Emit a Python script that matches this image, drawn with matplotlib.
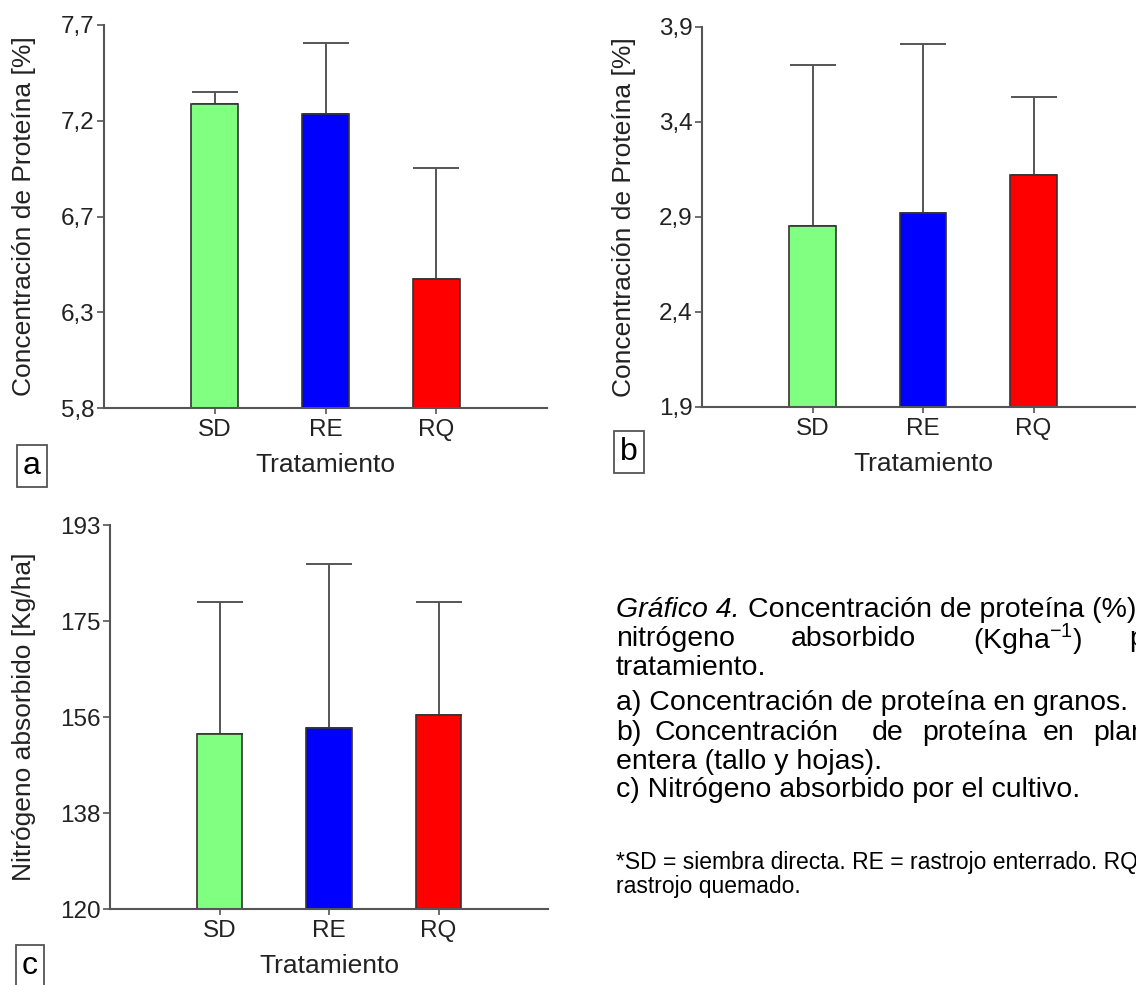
import matplotlib
matplotlib.use("Agg")
import matplotlib.pyplot as plt

plt.rcParams["font.family"] = ["Liberation Sans", "DejaVu Sans"]

tratamientos = ["SD", "RE", "RQ"]
colores = ["#80ff80", "#0000ff", "#ff0000"]

# a) proteina en granos
prot_granos = [7.31, 7.26, 6.44]
prot_granos_err = [0.06, 0.35, 0.55]
ticks_a = [5.8, 6.275, 6.75, 7.225, 7.7]
labels_a = ["5,8", "6,3", "6,7", "7,2", "7,7"]

# b) proteina en planta entera
prot_planta = [2.85, 2.92, 3.12]
prot_planta_err = [0.85, 0.89, 0.41]
ticks_b = [1.9, 2.4, 2.9, 3.4, 3.9]
labels_b = ["1,9", "2,4", "2,9", "3,4", "3,9"]

# c) nitrogeno absorbido
nitrogeno = [153.3, 154.5, 156.8]
nitrogeno_err = [25.1, 31.1, 21.6]
ticks_c = [120, 138.25, 156.5, 174.75, 193]
labels_c = ["120", "138", "156", "175", "193"]

W, H = 1136, 985
fig = plt.figure(figsize=(W / 100, H / 100), dpi=100)


def px_axes(l, t, r, b):
    return fig.add_axes([l / W, 1 - b / H, (r - l) / W, (b - t) / H])


def panel(ax, vals, errs, ticks, labels, ylabel, w_px, h_px, ylab_off):
    x = [1, 2, 3]
    ax.errorbar(x, vals, yerr=[[0, 0, 0], errs], fmt="none", ecolor="#555555",
                elinewidth=1.4, capsize=16.5, capthick=1.4, zorder=1)
    ax.bar(x, vals, width=0.42, color=colores, edgecolor="#333333",
           linewidth=1.2, zorder=2)
    ax.set_xlim(0, 4)
    ax.set_ylim(ticks[0], ticks[-1])
    ax.set_yticks(ticks)
    ax.set_yticklabels(labels)
    ax.set_xticks(x)
    ax.set_xticklabels(tratamientos)
    for s in ["top", "right"]:
        ax.spines[s].set_visible(False)
    for s in ["left", "bottom"]:
        ax.spines[s].set_color("#555555")
        ax.spines[s].set_linewidth(1.5)
    ax.tick_params(axis="both", colors="#555555", labelcolor="#222222",
                   labelsize=17.5, length=5, width=1.2)
    ax.tick_params(axis="y", pad=2)
    ax.tick_params(axis="x", pad=4, length=4)
    ax.set_ylabel(ylabel, fontsize=19, color="#222222")
    ax.yaxis.set_label_coords(ylab_off / w_px, 0.5)
    ax.set_xlabel("Tratamiento", fontsize=19, color="#222222")
    ax.xaxis.set_label_coords(0.5, -45 / h_px)


ax_a = px_axes(104, 25, 547, 408)
panel(ax_a, prot_granos, prot_granos_err, ticks_a, labels_a,
      "Concentración de Proteína [%]", 443, 383, -68)
ax_b = px_axes(702, 27, 1144, 407)
panel(ax_b, prot_planta, prot_planta_err, ticks_b, labels_b,
      "Concentración de Proteína [%]", 442, 380, -66)
ax_c = px_axes(110, 525, 548, 909)
panel(ax_c, nitrogeno, nitrogeno_err, ticks_c, labels_c,
      "Nitrógeno absorbido [Kg/ha]", 438, 384, -74)

# letras de panel
box = dict(boxstyle="square,pad=0.2", fc="white", ec="#555555", lw=1.3)
for letra, (px, py) in zip(["a", "b", "c"], [(32, 466), (629, 452), (30, 966)]):
    fig.text(px / W, 1 - py / H, letra, fontsize=23, ha="center", va="center",
             bbox=box)


# leyenda de la figura
def t(x, y, s, size=20.5, **kw):
    fig.text(x / W, 1 - y / H, s, va="center", ha="left", fontsize=size,
             color="black", **kw)


t(616, 610, "Gráfico 4.", style="italic")
t(748, 610, "Concentración de proteína (%) y")
t(616, 639, "nitrógeno")
t(791, 639, "absorbido")
t(973, 639, r"(Kgha$^{\mathregular{-1}}$)")
t(1129, 639, "por")
t(616, 668, "tratamiento.")
t(616, 703, "a) Concentración de proteína en granos.")
t(616, 733, "b)")
t(655, 733, "Concentración")
t(872, 733, "de")
t(922, 733, "proteína")
t(1043, 733, "en")
t(1093, 733, "planta")
t(616, 762, "entera (tallo y hojas).")
t(616, 790, "c) Nitrógeno absorbido por el cultivo.")
t(616, 862, "*SD = siembra directa. RE = rastrojo enterrado. RQ =", size=16.5)
t(616, 887, "rastrojo quemado.", size=16.5)

fig.savefig("out.png", dpi=100)
